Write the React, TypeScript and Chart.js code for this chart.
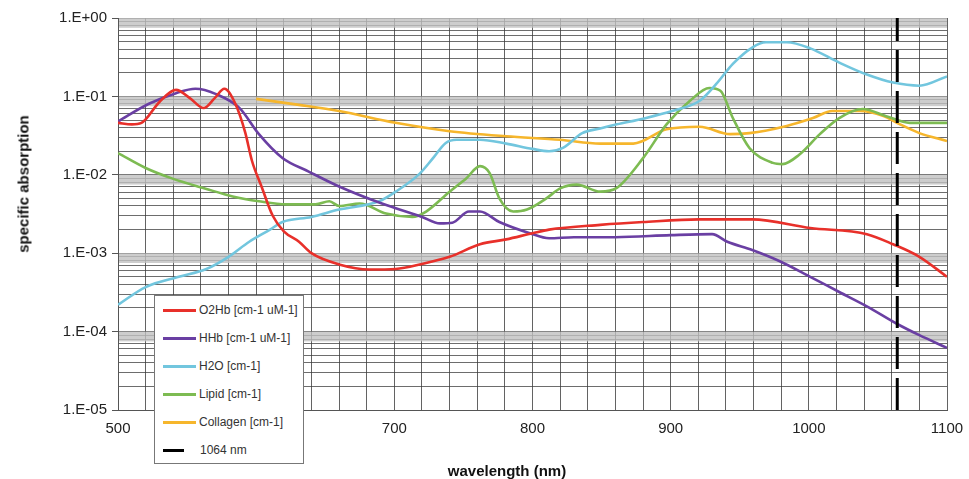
import React, { useEffect, useRef } from 'react';
import { Chart, registerables } from 'chart.js';
Chart.register(...registerables);

// ---- data ----
const o2hbNm = [500, 510, 517, 530, 542, 552, 562, 570, 577, 585, 592, 597, 604, 612, 620, 631, 640, 660, 682, 701, 720, 740, 762, 781, 800, 812, 849, 880, 921, 959, 1001, 1042, 1061, 1080, 1100];
const o2hbVal = [0.046, 0.044, 0.046, 0.085, 0.121, 0.095, 0.071, 0.095, 0.125, 0.08, 0.035, 0.015, 0.007, 0.003, 0.0019, 0.0014, 0.001, 0.00072, 0.00062, 0.00063, 0.00073, 0.0009, 0.0013, 0.0015, 0.0018, 0.002, 0.0023, 0.0025, 0.0027, 0.0027, 0.0021, 0.00175, 0.0013, 0.0009, 0.0005];

const hhbNm = [500, 522, 542, 556, 571, 588, 602, 619, 638, 660, 691, 720, 733, 742, 754, 762, 776, 798, 812, 830, 860, 900, 930, 941, 959, 979, 1001, 1022, 1042, 1064, 1080, 1100];
const hhbVal = [0.048, 0.08, 0.11, 0.125, 0.107, 0.071, 0.033, 0.0164, 0.011, 0.0071, 0.0043, 0.0029, 0.0024, 0.00245, 0.0034, 0.0034, 0.0025, 0.0018, 0.00155, 0.0016, 0.0016, 0.0017, 0.00175, 0.0014, 0.0011, 0.00079, 0.0005, 0.00032, 0.00021, 0.000125, 0.00009, 0.000062];

const h2oNm = [500, 520, 544, 564, 580, 595, 610, 619, 640, 660, 689, 701, 718, 728, 737, 745, 762, 781, 800, 812, 822, 836, 849, 861, 880, 901, 921, 933, 945, 959, 969, 984, 1001, 1022, 1042, 1061, 1080, 1100];
const h2oVal = [0.00022, 0.00037, 0.0005, 0.00063, 0.0009, 0.0014, 0.002, 0.0025, 0.0029, 0.0036, 0.0046, 0.0061, 0.0102, 0.0163, 0.0253, 0.028, 0.028, 0.025, 0.0214, 0.02, 0.022, 0.034, 0.039, 0.044, 0.052, 0.065, 0.088, 0.144, 0.26, 0.42, 0.49, 0.49, 0.41, 0.27, 0.19, 0.15, 0.137, 0.18];

const lipidNm = [500, 520, 539, 564, 583, 602, 622, 643, 653, 660, 675, 694, 713, 723, 740, 752, 762, 769, 776, 786, 796, 810, 820, 832, 849, 861, 880, 897, 914, 928, 936, 945, 957, 974, 981, 993, 1008, 1022, 1039, 1056, 1073, 1100];
const lipidVal = [0.0189, 0.0122, 0.009, 0.0066, 0.0053, 0.0046, 0.0042, 0.0042, 0.0046, 0.004, 0.0043, 0.0032, 0.0029, 0.0034, 0.0061, 0.009, 0.0129, 0.0105, 0.005, 0.0034, 0.0036, 0.005, 0.0067, 0.0075, 0.0061, 0.0068, 0.0163, 0.044, 0.088, 0.128, 0.118, 0.053, 0.022, 0.0142, 0.0137, 0.018, 0.033, 0.053, 0.069, 0.056, 0.046, 0.046];

const collagenNm = [600, 631, 660, 701, 740, 781, 820, 849, 873, 897, 921, 943, 957, 984, 1003, 1017, 1037, 1054, 1066, 1080, 1100];
const collagenVal = [0.093, 0.078, 0.065, 0.046, 0.036, 0.031, 0.028, 0.025, 0.025, 0.038, 0.041, 0.033, 0.034, 0.042, 0.053, 0.065, 0.065, 0.056, 0.044, 0.034, 0.027];

const laserNm = 1064;

const yDecades = [1e-5, 1e-4, 1e-3, 1e-2, 1e-1, 1];
const yLabels = ['1.E-05', '1.E-04', '1.E-03', '1.E-02', '1.E-01', '1.E+00'];
const yMinorMultipliers = [2, 3, 4, 5, 6, 7, 8, 9];
const xLabelValues = [500, 600, 700, 800, 900, 1000, 1100];

const seriesLabels = ['O2Hb [cm-1 uM-1]', 'HHb [cm-1 uM-1]', 'H2O [cm-1]', 'Lipid [cm-1]', 'Collagen [cm-1]', '1064 nm'];
const seriesColors = ['#e8302a', '#6a3fa3', '#72c6de', '#7dbb52', '#f6b62c', '#000000'];

const FONT = '"Liberation Sans", Arial, sans-serif';

function pts(xs: number[], ys: number[]) {
  return xs.map((x, i) => ({ x, y: ys[i] }));
}

const bandPlugin = {
  id: 'bands',
  beforeDatasetsDraw(chart: any) {
    const { ctx, chartArea } = chart;
    const y = chart.scales.y;
    ctx.save();
    ctx.fillStyle = 'rgba(192,192,192,0.8)';
    for (const d of yDecades) {
      if (d <= 1e-5) continue;
      const y1 = y.getPixelForValue(d);
      const y2 = y.getPixelForValue(d * 0.75);
      ctx.fillRect(chartArea.left + 1, y1, chartArea.right - chartArea.left - 1, y2 - y1);
    }
    ctx.restore();
  },
};

export default function App() {
  const ref = useRef<HTMLCanvasElement>(null);
  useEffect(() => {
    document.body.style.margin = '0';
    const yTicks: number[] = [];
    yDecades.forEach((d, i) => {
      yTicks.push(d);
      if (i < yDecades.length - 1) yMinorMultipliers.forEach((m) => yTicks.push(d * m));
    });
    const mk = (i: number, data: any[]) => ({
      label: seriesLabels[i],
      data,
      borderColor: seriesColors[i],
      borderWidth: 2.6,
      pointRadius: 0,
      fill: false,
      cubicInterpolationMode: 'monotone' as const,
      order: 1,
    });
    const chart = new Chart(ref.current!, {
      type: 'line',
      data: {
        datasets: [
          mk(0, pts(o2hbNm, o2hbVal)),
          mk(1, pts(hhbNm, hhbVal)),
          mk(2, pts(h2oNm, h2oVal)),
          mk(3, pts(lipidNm, lipidVal)),
          mk(4, pts(collagenNm, collagenVal)),
          {
            label: seriesLabels[5],
            data: [{ x: laserNm, y: yDecades[0] }, { x: laserNm, y: yDecades[yDecades.length - 1] }],
            borderColor: '#000',
            borderWidth: 3,
            borderDash: [32, 9],
            pointRadius: 0,
            order: 0,
          } as any,
        ],
      },
      options: {
        responsive: false,
        animation: false,
        events: [],
        layout: { padding: { left: 0, right: 22, top: 18, bottom: 0 } },
        plugins: { legend: { display: false }, tooltip: { enabled: false } },
        scales: {
          x: {
            type: 'linear',
            min: 500,
            max: 1100,
            afterFit: (s: any) => { s.height = 69; },
            grid: {
              color: 'rgba(60,60,60,0.8)',
              lineWidth: 1,
              tickLength: 5,
              tickColor: 'transparent',
            },
            border: { color: '#555', width: 1 },
            ticks: {
              stepSize: 20,
              autoSkip: false,
              maxRotation: 0,
              padding: 5,
              color: '#222',
              font: { family: FONT, size: 15 },
              callback: (v: any) => (xLabelValues.includes(Number(v)) ? String(v) : ''),
            },
          },
          y: {
            type: 'logarithmic',
            min: 1e-5,
            max: 1,
            afterFit: (s: any) => { s.width = 118; },
            afterBuildTicks: (s: any) => { s.ticks = yTicks.map((v) => ({ value: v })); },
            grid: {
              color: 'rgba(60,60,60,0.75)',
              lineWidth: 1,
              tickLength: 6,
              tickColor: (c: any) => (yDecades.includes(c.tick?.value) ? '#555' : 'transparent'),
            },
            border: { color: '#555', width: 1 },
            ticks: {
              autoSkip: false,
              padding: 5,
              color: '#222',
              font: { family: FONT, size: 15 },
              callback: (v: any) => {
                const i = yDecades.indexOf(Number(v));
                return i >= 0 ? yLabels[i] : '';
              },
            },
          },
        },
      },
      plugins: [bandPlugin],
    });
    return () => chart.destroy();
  }, []);

  const legendTops = [309, 337, 365, 393, 421, 449];
  return (
    <div style={{ position: 'relative', width: 969, height: 479, fontFamily: FONT }}>
      <canvas ref={ref} width={969} height={479} style={{ display: 'block' }} />
      <div
        style={{
          position: 'absolute', left: 23, top: 184, transform: 'translate(-50%, -50%) rotate(-90deg)',
          whiteSpace: 'nowrap', fontWeight: 'bold', fontSize: 15, color: '#111',
        }}
      >
        specific absorption
      </div>
      <div
        style={{
          position: 'absolute', left: 507, top: 470, transform: 'translate(-50%, -50%)',
          whiteSpace: 'nowrap', fontWeight: 'bold', fontSize: 15, color: '#111',
        }}
      >
        wavelength (nm)
      </div>
      <div
        style={{
          position: 'absolute', left: 154, top: 295, width: 148, height: 167,
          background: '#fff', border: '1px solid #777',
        }}
      >
        {seriesLabels.map((lab, i) => {
          const isLaser = i === seriesLabels.length - 1;
          const cy = legendTops[i] - 295;
          return (
            <React.Fragment key={lab}>
              <div
                style={{
                  position: 'absolute', left: 8, top: cy - 1.5, width: isLaser ? 21 : 33, height: 3,
                  background: seriesColors[i],
                }}
              />
              <div
                style={{
                  position: 'absolute', left: isLaser ? 45 : 44, top: cy, transform: 'translateY(-50%)',
                  fontSize: 12, color: '#333', whiteSpace: 'nowrap',
                }}
              >
                {lab}
              </div>
            </React.Fragment>
          );
        })}
      </div>
    </div>
  );
}
